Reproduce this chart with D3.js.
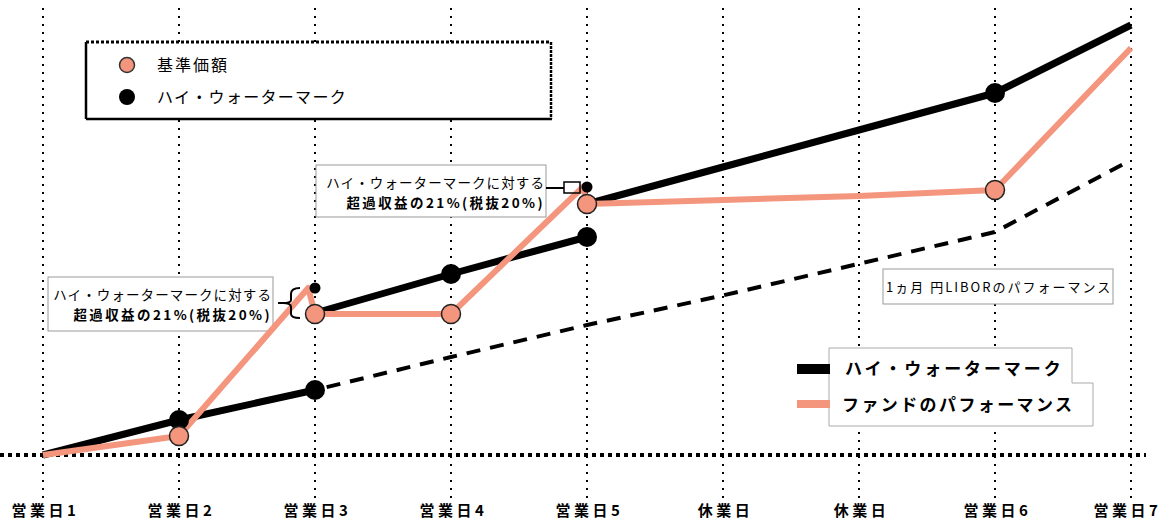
<!DOCTYPE html>
<html><head><meta charset="utf-8">
<script src="https://cdn.jsdelivr.net/npm/d3@7"></script>
<style>
html,body{margin:0;padding:0;background:#fff;}
svg{display:block;font-family:"Noto Sans CJK JP","Noto Sans",sans-serif;}
</style></head>
<body>
<svg id="c" width="1165" height="519"></svg>
<script>
// ---- data ----
const categories = ["営業日1","営業日2","営業日3","営業日4","営業日5","休業日","休業日","営業日6","営業日7"];
// High-water mark segments (index into categories, value)
const hwm1Idx = [0,1,2];
const hwm1Val = [100,108.75,116.25];
const hwm2Idx = [2,3,4];
const hwm2Val = [135.5,145.25,154.5];
const hwm3Idx = [4,5,6,7,8];
const hwm3Val = [162.75,172,181.25,190.5,207.5];
// 1-month yen LIBOR performance
const liborIdx = [2,3,4,5,6,7,8];
const liborVal = [116.25,124.5,132.5,139.9,147.8,155.75,173.75];
// fund performance (pre-fee peaks included at days 3 and 5)
const fundIdx = [0,1,1.95,2,3,3.97,4,5,6,7,8];
const fundVal = [100,104.75,141.75,135.25,135.25,167,162.75,163.75,164.75,166.25,201.75];
// markers
const navMarkIdx = [1,2,3,4,7];
const navMarkVal = [104.75,135.25,135.25,162.75,166.25];
const hwmMarkIdx = [1,2,3,4,7];
const hwmMarkVal = [108.75,116.25,145.25,154.5,190.5];
const peakMarkIdx = [2,4];
const peakMarkVal = [141.75,167];

const legendTop = ["基準価額","ハイ・ウォーターマーク"];
const legendBottom = ["ハイ・ウォーターマーク","ファンドのパフォーマンス"];
const annoLine1 = "ハイ・ウォーターマークに対する";
const annoLine2 = "超過収益の21%(税抜20%)";
const liborLabel = "1ヵ月 円LIBORのパフォーマンス";

const SALMON = "#f4957e";
const svg = d3.select("#c");
const x = d3.scaleLinear().domain([0, categories.length-1]).range([43,1131]);
const y = d3.scaleLinear().domain([100,212.5]).range([455,5]);

// vertical dotted grid
svg.append("g").selectAll("line").data(categories.map((d,i)=>i)).join("line")
  .attr("x1",d=>x(d)).attr("x2",d=>x(d)).attr("y1",8).attr("y2",500)
  .attr("stroke","#000").attr("stroke-width",2).attr("stroke-dasharray","2,6");

// baseline dotted
svg.append("line").attr("x1",0).attr("x2",1146).attr("y1",y(100)).attr("y2",y(100))
  .attr("stroke","#000").attr("stroke-width",4).attr("stroke-dasharray","4,4");

// x axis labels
const ax = svg.append("g").attr("transform","translate(0,502)")
  .call(d3.axisBottom(x).tickValues(categories.map((d,i)=>i)).tickFormat(i=>categories[i]).tickSize(0).tickPadding(0));
ax.select(".domain").remove();
ax.selectAll("text").attr("font-size",15).attr("font-weight","bold").attr("fill","#000")
  .attr("letter-spacing",3.5).attr("dx",(d,i)=>i===categories.length-1?-4:2)
  .attr("font-family","'Noto Sans CJK JP',sans-serif").attr("dy","0.9em");

// ---- top legend ----
const tl = svg.append("g");
tl.append("rect").attr("x",86).attr("y",42).attr("width",465).attr("height",77).attr("fill","#fff");
tl.append("line").attr("x1",86).attr("x2",86).attr("y1",42).attr("y2",119).attr("stroke","#000").attr("stroke-width",2.5);
tl.append("line").attr("x1",86).attr("x2",552).attr("y1",119).attr("y2",119).attr("stroke","#000").attr("stroke-width",2.5);
tl.append("line").attr("x1",86).attr("x2",551).attr("y1",42).attr("y2",42).attr("stroke","#000").attr("stroke-width",3).attr("stroke-dasharray","3,2");
tl.append("line").attr("x1",551).attr("x2",551).attr("y1",42).attr("y2",119).attr("stroke","#000").attr("stroke-width",2.5).attr("stroke-dasharray","3,1");
tl.append("circle").attr("cx",127).attr("cy",65).attr("r",7.5).attr("fill",SALMON).attr("stroke","#333").attr("stroke-width",1.5);
tl.append("circle").attr("cx",127).attr("cy",97).attr("r",8).attr("fill","#000");
tl.selectAll("text").data(legendTop).join("text")
  .attr("x",157).attr("y",(d,i)=>65+i*32).attr("dy","0.36em")
  .attr("font-size",16).attr("letter-spacing",(d,i)=>i?1.3:2).attr("fill","#000").text(d=>d);

// ---- annotation boxes ----
function anno(x0,y0,w,h,tx,ty1,ty2){
  const g = svg.append("g");
  g.append("rect").attr("x",x0).attr("y",y0).attr("width",w).attr("height",h)
    .attr("fill","#fff").attr("stroke","#999").attr("stroke-width",1);
  g.append("text").attr("x",tx).attr("y",ty1).attr("text-anchor","end").attr("font-size",13.5)
    .attr("letter-spacing",1.1).text(annoLine1);
  g.append("text").attr("x",tx).attr("y",ty2).attr("text-anchor","end").attr("font-size",13.5)
    .attr("font-weight","bold").attr("letter-spacing",2.4).text(annoLine2);
  return g;
}
anno(48,277,225,54,272,300,320);
anno(316,165,230,52,545,188,208);

// LIBOR label
svg.append("rect").attr("x",883).attr("y",269).attr("width",230).attr("height",35)
  .attr("fill","#fff").attr("stroke","#999").attr("stroke-width",1);
svg.append("text").attr("x",886).attr("y",287).attr("dy","0.36em").attr("font-size",13)
  .attr("letter-spacing",2).text(liborLabel);

// bottom legend
svg.append("path").attr("d","M829,348 H1072 V383 H1093 V426 H829 Z")
  .attr("fill","#fff").attr("stroke","#aaa").attr("stroke-width",1);
svg.append("rect").attr("x",797).attr("y",364).attr("width",33).attr("height",10).attr("fill","#000");
svg.append("rect").attr("x",797).attr("y",400).attr("width",33).attr("height",8).attr("fill",SALMON);
svg.selectAll(".bl").data(legendBottom).join("text").attr("class","bl")
  .attr("x",(d,i)=>i?842:845).attr("y",(d,i)=>i?405:369).attr("dy","0.36em")
  .attr("font-size",17).attr("font-weight","bold")
  .attr("letter-spacing",(d,i)=>i?2.4:2.9).text(d=>d);

// ---- lines ----
const line = d3.line().x(d=>x(d[0])).y(d=>y(d[1]));
const zip = (a,b)=>a.map((d,i)=>[d,b[i]]);

svg.append("path").datum(zip(liborIdx,liborVal)).attr("d",line)
  .attr("fill","none").attr("stroke","#000").attr("stroke-width",4).attr("stroke-dasharray","14,10")
  .attr("stroke-dashoffset",-12);

[[hwm1Idx,hwm1Val],[hwm2Idx,hwm2Val],[hwm3Idx,hwm3Val]].forEach(([a,b])=>{
  svg.append("path").datum(zip(a,b)).attr("d",line)
    .attr("fill","none").attr("stroke","#000").attr("stroke-width",7).attr("stroke-linejoin","round");
});

svg.append("path").datum(zip(fundIdx,fundVal)).attr("d",line)
  .attr("fill","none").attr("stroke",SALMON).attr("stroke-width",6).attr("stroke-linejoin","round");

// annotation connectors
svg.append("path").attr("d","M300,288 Q291,288 291,294 V300 Q291,303 283,303 Q291,303 291,307 V314 Q291,318 300,318")
  .attr("fill","none").attr("stroke","#000").attr("stroke-width",2);
svg.append("line").attr("x1",278).attr("x2",284).attr("y1",303).attr("y2",303).attr("stroke","#000").attr("stroke-width",2);
svg.append("line").attr("x1",546).attr("x2",564).attr("y1",188).attr("y2",188).attr("stroke","#000").attr("stroke-width",2);
svg.append("rect").attr("x",564).attr("y",182).attr("width",16).attr("height",11).attr("fill","none").attr("stroke","#000").attr("stroke-width",1.5);

// markers
svg.selectAll(".hm").data(zip(hwmMarkIdx,hwmMarkVal)).join("circle").attr("class","hm")
  .attr("cx",d=>x(d[0])).attr("cy",d=>y(d[1])).attr("r",10).attr("fill","#000");
svg.selectAll(".pk").data(zip(peakMarkIdx,peakMarkVal)).join("circle").attr("class","pk")
  .attr("cx",d=>x(d[0])).attr("cy",d=>y(d[1])).attr("r",5.5).attr("fill","#000");
svg.selectAll(".nm").data(zip(navMarkIdx,navMarkVal)).join("circle").attr("class","nm")
  .attr("cx",d=>x(d[0])).attr("cy",d=>y(d[1])).attr("r",9.5).attr("fill",SALMON).attr("stroke","#222").attr("stroke-width",1.5);
</script>
</body></html>
